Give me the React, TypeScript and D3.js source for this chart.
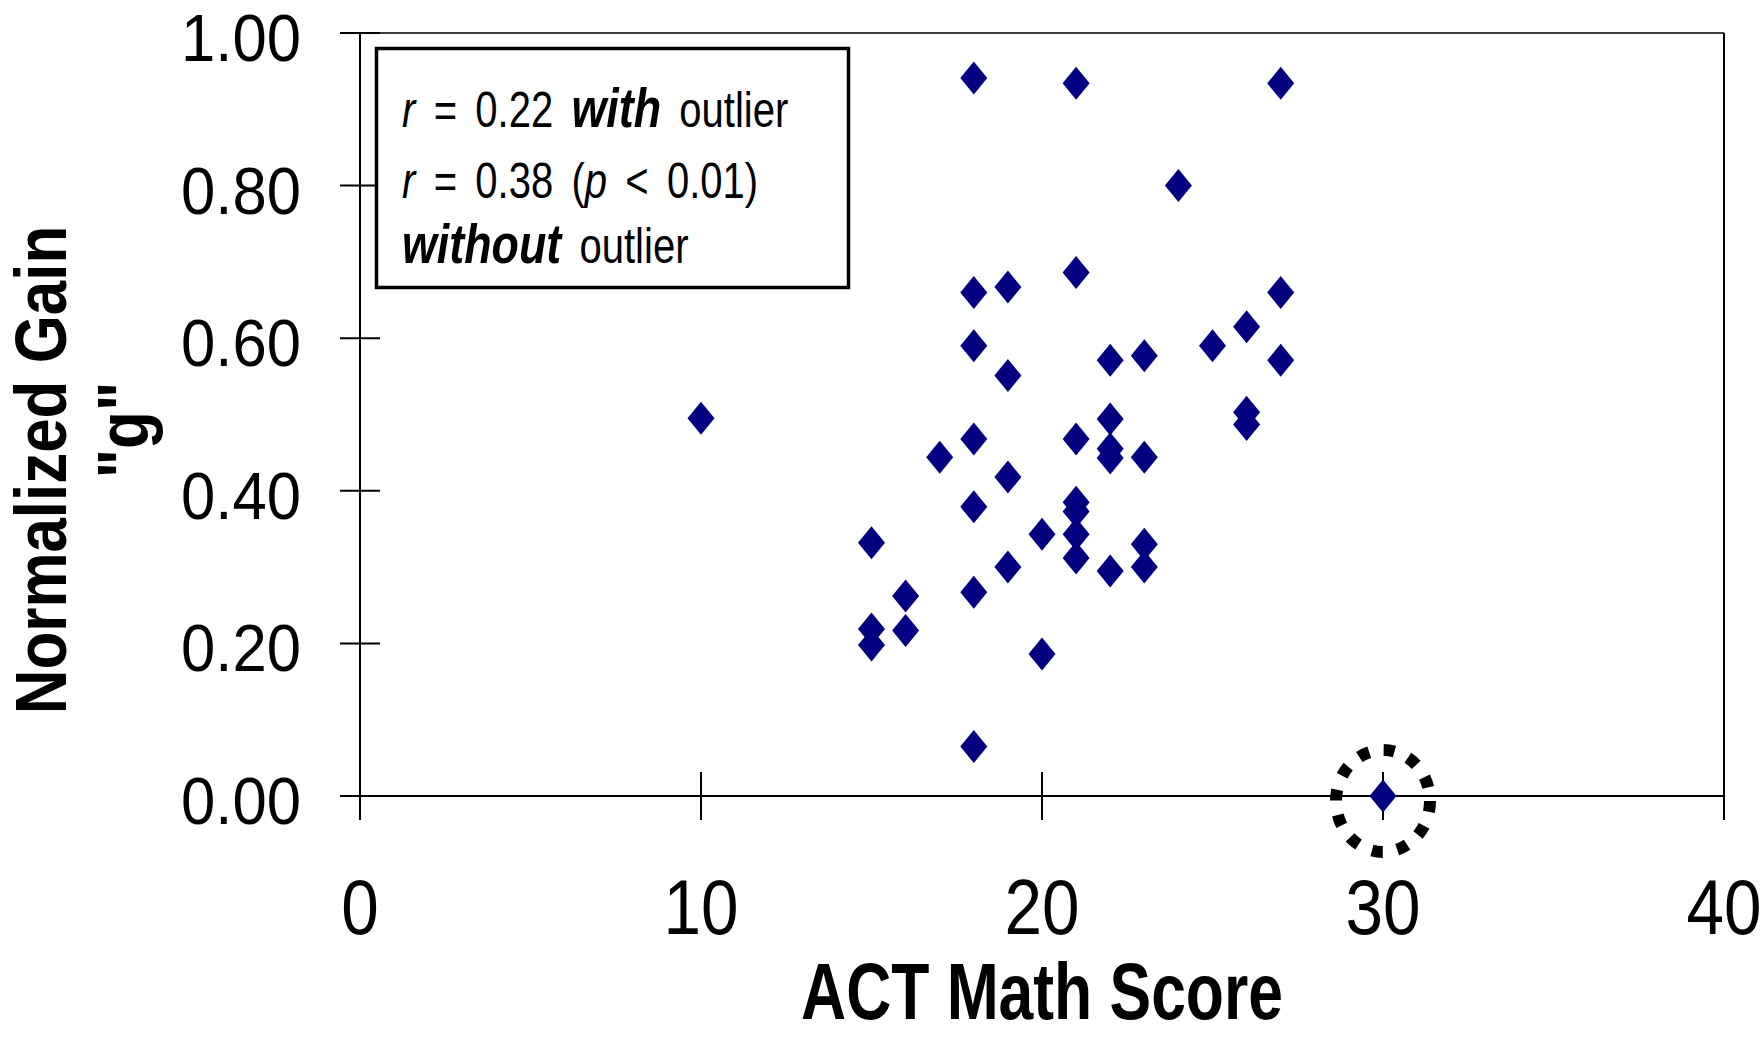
import * as d3 from 'd3';
import React from 'react';

// ACT math score vs normalized gain, one entry per student
const actScores = [
  10,
  15, 15, 15,
  16, 16,
  17,
  18, 18, 18, 18, 18, 18, 18,
  19, 19, 19, 19,
  20, 20,
  21, 21, 21, 21, 21, 21, 21,
  22, 22, 22, 22, 22,
  23, 23, 23, 23,
  24,
  25,
  26, 26, 26,
  27, 27, 27,
  30,
];
const normalizedGains = [
  0.495,
  0.332, 0.219, 0.198,
  0.262, 0.217,
  0.444,
  0.941, 0.660, 0.590, 0.468, 0.379, 0.267, 0.065,
  0.667, 0.551, 0.418, 0.300,
  0.343, 0.186,
  0.934, 0.686, 0.468, 0.385, 0.373, 0.343, 0.312,
  0.571, 0.494, 0.455, 0.443, 0.295,
  0.577, 0.444, 0.330, 0.300,
  0.800,
  0.590,
  0.615, 0.503, 0.487,
  0.934, 0.660, 0.571,
  0.0,
];
const outlierIndex = actScores.length - 1;

const xTickValues = [0, 10, 20, 30, 40];
const yTickValues = [0, 0.2, 0.4, 0.6, 0.8, 1.0];

const xTitle = 'ACT Math Score';
const yTitle = 'Normalized Gain';
const yTitle2 = '"g"';

const W = 1762, H = 1037;
const font = '"Liberation Sans", Arial, Helvetica, sans-serif';

export default function App() {
  const x = d3.scaleLinear().domain([0, 40]).range([360, 1724]);
  const y = d3.scaleLinear().domain([0, 1]).range([796, 33]);
  const fmt = d3.format('.2f');

  const diamond = 'M0,-16.5L13.5,0L0,16.5L-13.5,0Z';
  const tickHalf = 24;
  const yTickHalf = 20;
  const bi = {fontStyle: 'italic', fontWeight: 'bold', fontSize: 56} as const;

  return (
    <svg width={W} height={H} style={{position: 'absolute', left: 0, top: 0, background: '#fff'}}
      fontFamily={font}>
      {/* plot frame: top and right */}
      <line x1={x(0) - yTickHalf} x2={x(40)} y1={y(1)} y2={y(1)} stroke="#000" strokeWidth={1.6} />
      <line x1={x(40)} x2={x(40)} y1={y(1)} y2={y(0) + tickHalf} stroke="#000" strokeWidth={2} />

      {/* y axis */}
      <line x1={x(0)} x2={x(0)} y1={y(1)} y2={y(0) + tickHalf} stroke="#000" strokeWidth={2} />
      {yTickValues.map(v => (
        <g key={'yt' + v}>
          <line x1={x(0) - yTickHalf} x2={x(0) + yTickHalf} y1={y(v)} y2={y(v)} stroke="#000" strokeWidth={2} />
          <text transform={`translate(301,${y(v) + 28}) scale(0.92,1)`} textAnchor="end" fontSize={67}>
            {fmt(v)}
          </text>
        </g>
      ))}

      {/* x axis */}
      <line x1={x(0) - yTickHalf} x2={x(40)} y1={y(0)} y2={y(0)} stroke="#000" strokeWidth={2} />
      {xTickValues.map(v => (
        <g key={'xt' + v}>
          <line x1={x(v)} x2={x(v)} y1={y(0) - tickHalf} y2={y(0) + tickHalf} stroke="#000" strokeWidth={2} />
          <text transform={`translate(${x(v)},934) scale(0.865,1)`} textAnchor="middle" fontSize={78}>
            {v}
          </text>
        </g>
      ))}

      {/* axis titles */}
      <text transform={`translate(${(x(0) + x(40)) / 2},1019) scale(0.78,1)`} textAnchor="middle"
        fontSize={80} fontWeight="bold">{xTitle}</text>
      <text transform="translate(66,470) rotate(-90) scale(0.86,1)" textAnchor="middle"
        fontSize={72} fontWeight="bold">{yTitle}</text>
      <text transform="translate(148,430) rotate(-90) scale(0.86,1)" textAnchor="middle"
        fontSize={72} fontWeight="bold">{yTitle2}</text>

      {/* annotation box */}
      <rect x={376.5} y={48.5} width={472} height={239} fill="#fff" stroke="#000" strokeWidth={3.5} />
      <g transform="translate(402,0) scale(0.8,1)" fontSize={50} wordSpacing={9}>
        <text x={0} y={127}>
          <tspan fontStyle="italic">r</tspan> = 0.22 <tspan {...bi}>with</tspan> outlier
        </text>
        <text x={0} y={198}>
          <tspan fontStyle="italic">r</tspan> = 0.38 (<tspan fontStyle="italic">p</tspan> &lt; 0.01)
        </text>
        <text x={0} y={263}>
          <tspan {...bi}>without</tspan> outlier
        </text>
      </g>

      {/* points */}
      {actScores.map((a, i) => (
        <path key={i} d={diamond} transform={`translate(${x(a)},${y(normalizedGains[i])})`} fill="#000080" />
      ))}

      {/* dashed ring around the outlier */}
      <ellipse cx={x(actScores[outlierIndex])} cy={y(normalizedGains[outlierIndex]) + 5} rx={47} ry={51}
        fill="none" stroke="#000" strokeWidth={12} strokeDasharray="11 14.7" />
    </svg>
  );
}
